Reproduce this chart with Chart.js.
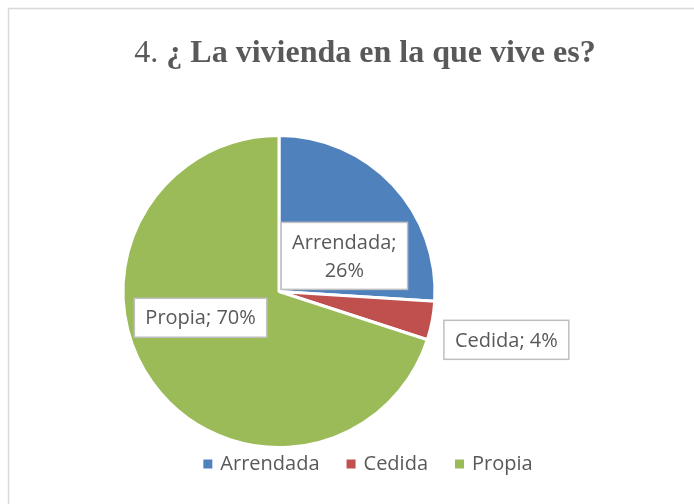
<!DOCTYPE html>
<html>
<head>
<meta charset="utf-8">
<script src="https://cdn.jsdelivr.net/npm/chart.js@4"></script>
<style>
  html, body { margin: 0; padding: 0; background: #fff; }
  #wrap { width: 694px; height: 504px; position: relative; }
</style>
</head>
<body>
<div id="wrap"><canvas id="pieChart" width="694" height="504"></canvas></div>
<script>
// chart data
const categories = ['Arrendada', 'Cedida', 'Propia'];
const percentages = [26, 4, 70];
const sliceColors = ['#4F81BD', '#C0504D', '#9BBB59'];
const titlePrefix = '4.';
const titleText = '¿ La vivienda en la que vive es?';

const textColor = '#595959';
const labelFont = '20px "Open Sans"';

// where each data label box sits, polar from pie centre (fraction of radius, degrees)
const labelPlacement = [
  { r: 0.477, a: -28.6, lines: (c, v) => [c + ';', v + '%'] },
  { r: 1.49, a: 12.0, lines: (c, v) => [c + '; ' + v + '%'] },
  { r: 0.53, a: 161.5, lines: (c, v) => [c + '; ' + v + '%'] }
];

// frame + title
const framePlugin = {
  id: 'frame',
  beforeDraw(chart) {
    const ctx = chart.ctx;
    ctx.save();
    ctx.strokeStyle = '#d9d9d9';
    ctx.lineWidth = 1.5;
    ctx.beginPath();
    ctx.moveTo(8.5, 504);
    ctx.lineTo(8.5, 8.5);
    ctx.lineTo(694, 8.5);
    ctx.stroke();

    // title: number in regular weight, question in bold
    ctx.fillStyle = textColor;
    ctx.textBaseline = 'alphabetic';
    const regular = '32px "Liberation Serif"';
    const bold = 'bold 32px "Liberation Serif"';
    ctx.font = regular;
    const w1 = ctx.measureText(titlePrefix + ' ').width;
    ctx.font = bold;
    const w2 = ctx.measureText(titleText).width;
    let x = 365 - (w1 + w2) / 2;
    ctx.font = regular;
    ctx.fillText(titlePrefix + ' ', x, 62);
    ctx.font = bold;
    ctx.fillText(titleText, x + w1, 62);
    ctx.restore();
  }
};

// data label boxes
const labelPlugin = {
  id: 'boxLabels',
  afterDatasetsDraw(chart) {
    const ctx = chart.ctx;
    const meta = chart.getDatasetMeta(0);
    ctx.save();
    ctx.font = labelFont;
    ctx.textAlign = 'center';
    ctx.textBaseline = 'middle';
    const lineH = 28;
    meta.data.forEach((arc, i) => {
      const p = labelPlacement[i];
      const ang = p.a * Math.PI / 180;
      const cx = arc.x + Math.cos(ang) * arc.outerRadius * p.r;
      const cy = arc.y + Math.sin(ang) * arc.outerRadius * p.r;
      const lines = p.lines(categories[i], percentages[i]);
      const w = Math.max(...lines.map(l => ctx.measureText(l).width)) + 22;
      const h = lines.length * lineH + 11;
      ctx.fillStyle = '#ffffff';
      ctx.fillRect(cx - w / 2, cy - h / 2, w, h);
      ctx.strokeStyle = '#bfbfbf';
      ctx.lineWidth = 1.5;
      ctx.strokeRect(cx - w / 2, cy - h / 2, w, h);
      ctx.fillStyle = textColor;
      lines.forEach((l, j) => {
        ctx.fillText(l, cx, cy + (j - (lines.length - 1) / 2) * lineH + 1);
      });
    });
    ctx.restore();
  }
};

// bottom legend
const legendPlugin = {
  id: 'bottomLegend',
  afterDraw(chart) {
    const ctx = chart.ctx;
    const meta = chart.getDatasetMeta(0);
    ctx.save();
    ctx.font = labelFont;
    ctx.textBaseline = 'middle';
    const box = 9, gap = 8, spacing = 27;
    const widths = categories.map(c => box + gap + ctx.measureText(c).width);
    const total = widths.reduce((a, b) => a + b, 0) + spacing * (categories.length - 1);
    let x = 368 - total / 2;
    const y = 464;
    categories.forEach((c, i) => {
      ctx.fillStyle = meta.data[i].options.backgroundColor;
      ctx.fillRect(x, y - box / 2, box, box);
      ctx.fillStyle = textColor;
      ctx.fillText(c, x + box + gap, y);
      x += widths[i] + spacing;
    });
    ctx.restore();
  }
};

new Chart(document.getElementById('pieChart').getContext('2d'), {
  type: 'pie',
  data: {
    labels: categories,
    datasets: [{
      data: percentages,
      backgroundColor: sliceColors,
      borderColor: '#ffffff',
      borderWidth: 3
    }]
  },
  options: {
    responsive: false,
    animation: false,
    layout: { padding: { left: 120, right: 256, top: 134, bottom: 55 } },
    plugins: {
      legend: { display: false },
      title: { display: false },
      tooltip: { enabled: false }
    }
  },
  plugins: [framePlugin, labelPlugin, legendPlugin]
});
</script>
</body>
</html>
